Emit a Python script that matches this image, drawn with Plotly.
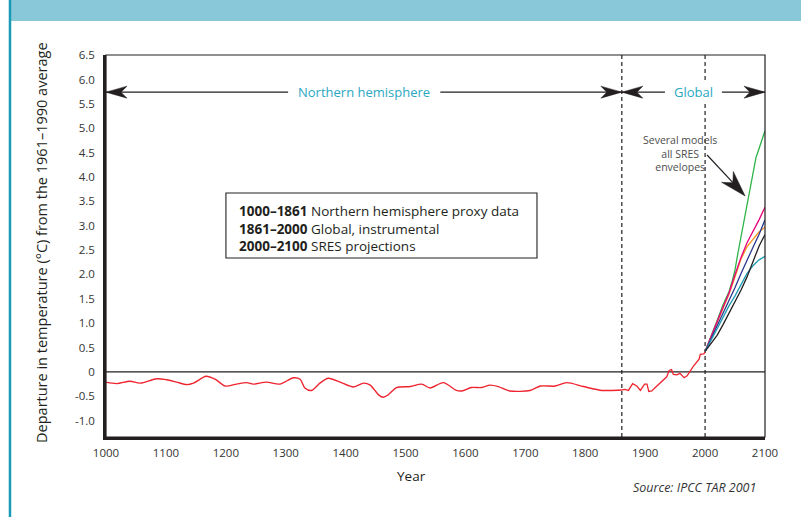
import numpy as np
import plotly.graph_objects as go

# ---------------- data ----------------
proxy_years = [1000, 1018, 1040, 1057, 1085, 1101, 1118, 1135, 1146, 1167, 1182, 1199, 1218, 1235,
               1246, 1268, 1290, 1313, 1324, 1332, 1343, 1357, 1371, 1391, 1413, 1430, 1441, 1455,
               1463, 1471, 1485, 1508, 1527, 1541, 1563, 1585, 1594, 1610, 1627, 1641, 1655, 1674,
               1708, 1725, 1750, 1769, 1797, 1828, 1841, 1861]
proxy_temp = [-0.21, -0.24, -0.19, -0.23, -0.14, -0.16, -0.21, -0.26, -0.23, -0.09, -0.15, -0.29, -0.25, -0.22,
              -0.25, -0.21, -0.25, -0.12, -0.15, -0.33, -0.38, -0.23, -0.13, -0.21, -0.31, -0.23, -0.27, -0.47,
              -0.52, -0.47, -0.32, -0.30, -0.25, -0.33, -0.22, -0.38, -0.39, -0.32, -0.32, -0.27, -0.30, -0.39,
              -0.38, -0.29, -0.29, -0.22, -0.30, -0.38, -0.38, -0.37]

instr_years = [1861, 1866, 1872, 1879, 1886, 1892, 1899, 1903, 1906, 1911, 1916, 1925, 1936, 1940,
               1944, 1947, 1953, 1958, 1965, 1970, 1980, 1990, 1992, 1998, 2000]
instr_temp = [-0.37, -0.36, -0.38, -0.24, -0.29, -0.38, -0.25, -0.25, -0.40, -0.39, -0.33, -0.23, -0.10, 0.03,
              0.05, -0.05, -0.06, -0.03, -0.12, -0.08, 0.11, 0.26, 0.36, 0.37, 0.41]

green_years = [2000, 2010, 2020, 2030, 2040, 2045, 2050, 2055, 2060, 2065, 2070, 2075, 2080, 2085, 2090, 2095, 2100]
green_temp = [0.42, 0.72, 1.05, 1.38, 1.65, 1.85, 2.10, 2.45, 2.78, 3.10, 3.42, 3.78, 4.10, 4.40, 4.58, 4.75, 4.95]

proj_years = [2000, 2010, 2020, 2030, 2040, 2050, 2060, 2070, 2080, 2090, 2100]
magenta_temp = [0.42, 0.74, 1.03, 1.33, 1.62, 2.00, 2.35, 2.65, 2.88, 3.12, 3.38]
orange_temp = [0.42, 0.72, 1.00, 1.30, 1.60, 1.95, 2.32, 2.57, 2.73, 2.87, 2.97]
blue_temp = [0.42, 0.68, 0.95, 1.22, 1.47, 1.73, 2.02, 2.30, 2.56, 2.82, 3.12]
teal_temp = [0.42, 0.64, 0.88, 1.12, 1.36, 1.56, 1.80, 2.02, 2.18, 2.30, 2.37]
black_temp = [0.42, 0.58, 0.75, 0.97, 1.20, 1.43, 1.68, 1.95, 2.27, 2.58, 2.82]

x_ticks = [1000, 1100, 1200, 1300, 1400, 1500, 1600, 1700, 1800, 1900, 2000, 2100]
y_ticks = [-1.0, -0.5, 0, 0.5, 1.0, 1.5, 2.0, 2.5, 3.0, 3.5, 4.0, 4.5, 5.0, 5.5, 6.0, 6.5]
y_tick_text = ["-1.0", "-0.5", "0", "0.5", "1.0", "1.5", "2.0", "2.5", "3.0", "3.5", "4.0",
               "4.5", "5.0", "5.5", "6.0", "6.5"]

period_lines = [1861, 2000]

FONT = "Open Sans"
TEAL = "#2aa7c2"
RED = "#ee2430"

fig = go.Figure()

fig.add_trace(go.Scatter(x=proxy_years, y=proxy_temp, mode="lines",
                         line=dict(color=RED, width=1.4, shape="spline", smoothing=0.8),
                         hoverinfo="skip", showlegend=False))
fig.add_trace(go.Scatter(x=instr_years, y=instr_temp, mode="lines",
                         line=dict(color=RED, width=1.3), hoverinfo="skip", showlegend=False))

for yrs, vals, col in [(green_years, green_temp, "#2db34a"),
                       (proj_years, orange_temp, "#f7941d"),
                       (proj_years, magenta_temp, "#e6007e"),
                       (proj_years, blue_temp, "#2b3990"),
                       (proj_years, teal_temp, "#1e9bb5"),
                       (proj_years, black_temp, "#231f20")]:
    fig.add_trace(go.Scatter(x=yrs, y=vals, mode="lines", line=dict(color=col, width=1.3),
                             hoverinfo="skip", showlegend=False))

shapes = []
# zero line
shapes.append(dict(type="line", xref="x", yref="y", x0=1000, x1=2100, y0=0, y1=0,
                   line=dict(color="#231f20", width=1.3), layer="below"))
# dashed period separators
for yr in period_lines:
    shapes.append(dict(type="line", xref="x", yref="paper", x0=yr, x1=yr, y0=0, y1=1,
                       line=dict(color="#231f20", width=1.2, dash="4px,3px"), layer="below"))
# frame (thin top/right)
shapes.append(dict(type="rect", xref="paper", yref="paper", x0=0, x1=1, y0=0, y1=1,
                   line=dict(color="#231f20", width=1.2)))

# horizontal period arrows
ARROW_Y = 5.74
for x0, x1 in [(1000, 1304), (1558, 1861), (1861, 1933), (2028, 2100)]:
    shapes.append(dict(type="line", xref="x", yref="y", x0=x0, x1=x1, y0=ARROW_Y, y1=ARROW_Y,
                       line=dict(color="#231f20", width=1.2)))


def dart(anchor_x, anchor_y, dx, dy, L=21, W=6, N=15):
    d = np.array([dx, dy], dtype=float)
    d /= np.linalg.norm(d)
    n = np.array([-d[1], d[0]])
    tip = np.array([0.0, 0.0])
    b1 = -L * d + W * n
    b2 = -L * d - W * n
    nt = -N * d
    pts = [tip, b1, nt, b2]
    path = "M" + " L".join(f"{p[0]:.2f},{p[1]:.2f}" for p in pts) + " Z"
    return dict(type="path", xref="x", yref="y", xsizemode="pixel", ysizemode="pixel",
                xanchor=anchor_x, yanchor=anchor_y, path=path,
                fillcolor="#231f20", line=dict(color="#231f20", width=0.5))


shapes.append(dart(1000, ARROW_Y, -1, 0))
shapes.append(dart(1861, ARROW_Y, 1, 0))
shapes.append(dart(1861, ARROW_Y, -1, 0))
shapes.append(dart(2100, ARROW_Y, 1, 0))

# "Several models" pointer arrow
shapes.append(dict(type="line", xref="x", yref="y", x0=2003.3, y0=4.45, x1=2062, y1=3.68,
                   line=dict(color="#231f20", width=1.2)))
shapes.append(dart(2066.8, 3.61, 38, -41, L=26, W=8, N=18))

# key box
shapes.append(dict(type="rect", xref="paper", yref="paper", x0=0.182, x1=0.654, y0=0.4686, y1=0.6387,
                   line=dict(color="#231f20", width=1.1), fillcolor="white", layer="below"))

# header band and left rule
shapes.append(dict(type="rect", xref="paper", yref="paper", x0=-0.146, x1=1.06, y0=1.089, y1=1.16,
                   line=dict(width=0), fillcolor="#89c8d8"))
shapes.append(dict(type="line", xref="paper", yref="paper", x0=-0.1457, x1=-0.1457, y0=-0.25, y1=1.16,
                   line=dict(color="#1b9ab8", width=2.5)))

annotations = [
    dict(text="Northern hemisphere", x=1430, y=ARROW_Y, xref="x", yref="y", showarrow=False,
         xanchor="center", yanchor="middle", font=dict(family=FONT, size=13, color=TEAL)),
    dict(text="Global", x=1981, y=ARROW_Y, xref="x", yref="y", showarrow=False,
         xanchor="center", yanchor="middle", bgcolor="white", borderpad=0,
         font=dict(family=FONT, size=13, color=TEAL)),
    dict(text="Several models<br>all SRES<br>envelopes", x=0.871, y=0.743, xref="paper", yref="paper",
         xanchor="center", yanchor="middle",
         showarrow=False, align="center", font=dict(family=FONT, size=10.5, color="#4d4d4d")),
    dict(text="<b>1000–1861</b> Northern hemisphere proxy data<br><b>1861–2000</b> Global, instrumental"
              "<br><b>2000–2100</b> SRES projections",
         x=0.1995, y=0.547, xref="paper", yref="paper", xanchor="left", yanchor="middle",
         align="left", showarrow=False, font=dict(family=FONT, size=13.5, color="#231f20")),
    dict(text="Departure in temperature (°C) from the 1961–1990 average", textangle=-90,
         x=-0.0971, y=0.508, xref="paper", yref="paper", showarrow=False,
         xanchor="center", yanchor="middle",
         font=dict(family=FONT, size=14.5, color="#231f20")),
    dict(text="Year", x=0.4643, y=-0.102, xref="paper", yref="paper", showarrow=False,
         xanchor="center", yanchor="middle",
         font=dict(family=FONT, size=13.5, color="#231f20")),
    dict(text="<i>Source: IPCC TAR 2001</i>", x=0.989, y=-0.1335, xref="paper", yref="paper",
         xanchor="right", yanchor="middle", showarrow=False,
         font=dict(family=FONT, size=12.5, color="#333333")),
]

fig.update_layout(
    width=801, height=517,
    margin=dict(l=106, r=36, t=55, b=80),
    paper_bgcolor="white", plot_bgcolor="white",
    shapes=shapes, annotations=annotations,
    font=dict(family=FONT, size=11, color="#333333"),
    xaxis=dict(range=[1000, 2100], tickvals=x_ticks, showgrid=False, zeroline=False,
               showline=True, linecolor="#231f20", linewidth=2.6, ticks="",
               tickfont=dict(family=FONT, size=11.5, color="#333333"), ticklabelstandoff=3),
    yaxis=dict(range=[-1.335, 6.502], tickvals=y_ticks, ticktext=y_tick_text, showgrid=False,
               zeroline=False, showline=True, linecolor="#231f20", linewidth=2.6, ticks="",
               tickfont=dict(family=FONT, size=11.5, color="#333333"), ticklabelstandoff=6),
)

fig.write_html("out.html", config={"displayModeBar": False},
               post_script="document.body.style.margin='0px';document.body.style.overflow='hidden';")
